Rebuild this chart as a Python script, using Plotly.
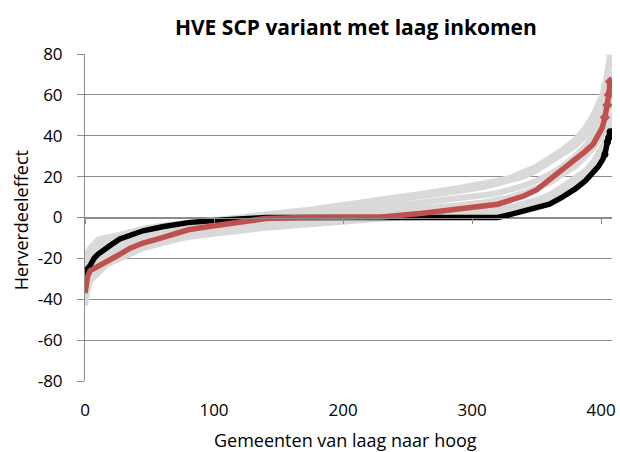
import plotly.graph_objects as go

rank = [0, 1, 2, 4, 7, 10, 15, 20, 27, 35, 45, 60, 80, 100, 120, 140, 170, 200, 230,
        260, 290, 310, 320, 330, 340, 350, 360, 370, 380, 388, 394, 398, 401, 403, 405, 406, 407]

# Grey comparison series
grey_1 = [-24, -20, -17, -15, -12.5, -11, -10, -9.5, -8.5, -7, -5.5, -4, -2.5, -1, 0.5, 1.5, 3.5, 6, 9,
          11.5, 14.5, 16.5, 18, 19.5, 22, 25, 29, 33, 38, 44, 50, 55, 60, 64, 70, 74, 78]
grey_2 = [-28, -24, -21, -19, -16, -14.5, -12.5, -11, -9.5, -8, -6.5, -4.5, -3, -1.5, 0, 1, 2.5, 5, 7.5,
          10, 13, 15, 16.5, 18, 20, 23, 27, 31, 35, 40, 45, 50, 54, 58, 63, 66, 70]
grey_3 = [-33, -29, -26, -23, -20.5, -19, -16.5, -14.5, -12.5, -10.5, -8.5, -6.5, -4.5, -3, -1.5, -0.5, 1, 3, 5,
          7, 9.5, 11, 12, 13.5, 15.5, 18, 21, 25, 30, 35, 40, 44, 48, 52, 57, 60, 63]
grey_4 = [-38, -34, -30, -27, -24, -22, -19.5, -17.5, -15, -13, -11, -8.5, -6, -4.5, -3, -1.5, -0.5, 1, 2.5,
          4, 6, 7.5, 8.5, 10, 12, 14.5, 17, 21, 25, 30, 34, 38, 42, 46, 51, 54, 57]
grey_5 = [-43, -38, -35, -31, -29, -27, -24, -22, -20, -17.5, -15, -12.5, -9.5, -8, -6.5, -5, -3.5, -2, -1,
          0.5, 2, 3, 4, 5, 6.5, 8.5, 11, 14, 18, 22, 26, 30, 33, 36, 40, 43, 46]
grey_6 = [-40, -36, -32, -29, -26.5, -25, -22.5, -20.5, -18, -16, -13.5, -11, -8.5, -6.5, -5, -4, -2.5, -1.5, -0.5,
          0, 0.5, 1, 1.5, 3, 5, 7, 9, 12, 16, 20, 24, 28, 31, 34, 38, 41, 44]
grey_7 = [-26, -22, -19, -17, -14, -12.5, -11.5, -10.5, -9.5, -8.5, -7, -5.5, -4, -2.5, -1.5, -1, -0.5, 0, 0,
          0.5, 1.5, 2.5, 3, 4, 5.5, 8, 11, 15, 19, 23, 27, 31, 34, 37, 42, 46, 50]

# Highlighted series
black_series = [-31, -27, -25, -23.5, -20, -18, -15.5, -13.5, -10.5, -8.5, -6.5, -4.5, -2.5, -1.5, -0.5, 0, 0, 0, 0,
                0, 0, 0, 0, 1.5, 3, 4.5, 6.5, 10, 14, 18, 22, 25, 28, 31, 37, 39, 42]
red_series = [-37, -33, -29, -26, -25, -24, -22.5, -21, -18, -15, -12.5, -9.8, -6, -4, -2, -0.5, 0, 0, 0.3,
              2, 4, 5.5, 6.5, 8.5, 10.5, 13.5, 18.5, 23, 28, 32.5, 36, 40, 44, 49, 55, 60, 66.5]

x_ticks = [0, 100, 200, 300, 400]
y_ticks = [-80, -60, -40, -20, 0, 20, 40, 60, 80]
y_tick_text = ["-80", "-60", "-40", "-20", "0", "20", "40", "60", "80"]

GREY = "#D9D9D9"
BLACK = "#000000"
RED = "#C0504D"
AXIS = "#8C8C8C"
FONT = "Open Sans"
TAIL = 4  # last municipalities drawn as separate markers, as in the reference

fig = go.Figure()
for g in [grey_1, grey_2, grey_3, grey_4, grey_5, grey_6, grey_7]:
    fig.add_trace(go.Scatter(x=rank, y=g, mode="lines",
                             line=dict(color=GREY, width=6),
                             hoverinfo="skip", showlegend=False))
    fig.add_trace(go.Scatter(x=rank[-TAIL:], y=g[-TAIL:], mode="markers",
                             marker=dict(color=GREY, size=7, symbol="square"),
                             hoverinfo="skip", showlegend=False))
fig.add_trace(go.Scatter(x=rank, y=black_series, mode="lines",
                         line=dict(color=BLACK, width=5.5),
                         showlegend=False))
fig.add_trace(go.Scatter(x=rank[-TAIL:], y=black_series[-TAIL:], mode="markers",
                         marker=dict(color=BLACK, size=7, symbol="circle"),
                         showlegend=False))
fig.add_trace(go.Scatter(x=rank, y=red_series, mode="lines",
                         line=dict(color=RED, width=5.5),
                         showlegend=False))
fig.add_trace(go.Scatter(x=rank[-TAIL:], y=red_series[-TAIL:], mode="markers",
                         marker=dict(color=RED, size=8, symbol="diamond"),
                         showlegend=False))
# invisible trace to carry the axis drawn through y = 0
fig.add_trace(go.Scatter(x=[0], y=[0], xaxis="x2", mode="markers",
                         marker=dict(opacity=0), hoverinfo="skip", showlegend=False))

fig.update_layout(
    width=620, height=452,
    margin=dict(l=85, r=8, t=54, b=71),
    paper_bgcolor="white", plot_bgcolor="white",
    font=dict(family=FONT, size=17, color="#000000"),
    title=dict(text="<b>HVE SCP variant met laag inkomen</b>",
               x=0.574, xanchor="center", y=0.938, yanchor="middle",
               font=dict(family=FONT, size=21, color="#000000")),
    xaxis=dict(range=[0, 408.5], tickvals=x_ticks, showgrid=False, showline=False,
               zeroline=False, ticks="", tickfont=dict(size=17), automargin=False,
               ticklabelstandoff=17, ticklabeloverflow="allow"),
    xaxis2=dict(overlaying="x", matches="x", anchor="free", position=0.5,
                tickvals=x_ticks, showticklabels=False, ticks="outside", ticklen=5,
                tickcolor=AXIS, showline=True, linecolor=AXIS, linewidth=1,
                showgrid=False, zeroline=False, automargin=False),
    yaxis=dict(range=[-80, 80], tickvals=y_ticks, ticktext=y_tick_text,
               showgrid=True, gridcolor=AXIS, gridwidth=1,
               zeroline=False, showline=True, linecolor=AXIS, ticks="outside", ticklen=7,
               tickcolor=AXIS, tickfont=dict(size=17), automargin=False,
               ticklabelstandoff=11),
    annotations=[
        dict(text="Gemeenten van laag naar hoog", xref="paper", yref="paper",
             x=0.495, y=-0.18, xanchor="center", yanchor="middle", showarrow=False,
             font=dict(family=FONT, size=18, color="#000000")),
        dict(text="Herverdeeleffect", xref="paper", yref="paper",
             x=-0.121, y=0.492, xanchor="center", yanchor="middle", showarrow=False,
             textangle=-90, font=dict(family=FONT, size=18, color="#000000")),
    ],
)

fig.write_html("out.html", config={"displayModeBar": False},
               post_script="document.body.style.margin='0';document.body.style.overflow='hidden';")
